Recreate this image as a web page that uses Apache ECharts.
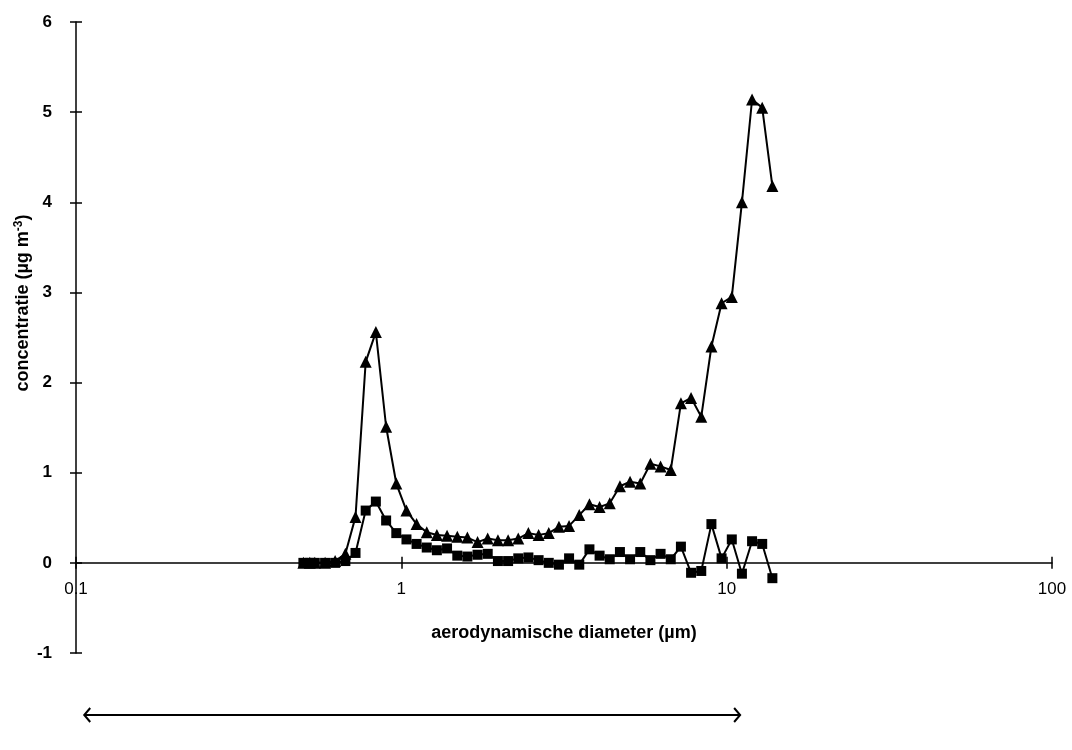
<!DOCTYPE html>
<html>
<head>
<meta charset="utf-8">
<script src="https://cdn.jsdelivr.net/npm/echarts@6/dist/echarts.min.js"></script>
<style>
html,body{margin:0;padding:0;background:#fff;}
#chart{width:1072px;height:750px;}
</style>
</head>
<body>
<div id="chart"></div>
<script>
// aerodynamic diameter (µm), channel midpoints
var diameters = [0.5, 0.523, 0.542, 0.583, 0.626, 0.673, 0.723, 0.777, 0.835, 0.898, 0.965, 1.037, 1.114, 1.197, 1.286, 1.382, 1.486, 1.596, 1.715, 1.843, 1.981, 2.129, 2.288, 2.458, 2.642, 2.839, 3.051, 3.278, 3.523, 3.786, 4.068, 4.371, 4.698, 5.048, 5.425, 5.829, 6.264, 6.732, 7.234, 7.774, 8.354, 8.977, 9.647, 10.37, 11.14, 11.97, 12.86, 13.82];
// triangle series (µg m-3)
var triangleValues = [0, 0, 0, 0, 0.02, 0.10, 0.51, 2.23, 2.56, 1.51, 0.88, 0.58, 0.43, 0.34, 0.31, 0.30, 0.29, 0.28, 0.23, 0.27, 0.25, 0.25, 0.27, 0.33, 0.31, 0.33, 0.40, 0.41, 0.53, 0.65, 0.62, 0.66, 0.85, 0.90, 0.88, 1.10, 1.07, 1.03, 1.77, 1.83, 1.62, 2.40, 2.88, 2.95, 4.00, 5.14, 5.05, 4.18];
// square series (µg m-3)
var squareValues = [0, 0, 0, 0, 0, 0.02, 0.11, 0.58, 0.68, 0.47, 0.33, 0.26, 0.21, 0.17, 0.14, 0.16, 0.08, 0.07, 0.09, 0.10, 0.02, 0.02, 0.05, 0.06, 0.03, 0.00, -0.02, 0.05, -0.02, 0.15, 0.08, 0.04, 0.12, 0.04, 0.12, 0.03, 0.10, 0.04, 0.18, -0.11, -0.09, 0.43, 0.05, 0.26, -0.12, 0.24, 0.21, -0.17];
var xTickLabels = {0.1: '0.1', 1: '1', 10: '10', 100: '100'};
var yTicks = [-1, 0, 1, 2, 3, 4, 5, 6];
var arrowRange = [0.106, 11.0];
var xTitle = 'aerodynamische diameter (\u00b5m)';

var chart = echarts.init(document.getElementById('chart'), null, {renderer: 'canvas'});
function pairs(xs, ys) { return xs.map(function (x, i) { return [x, ys[i]]; }); }

var axisColor = '#000';
var FONT = 'Liberation Sans, Arial, sans-serif';
function xFmt(v) { var k = Math.round(Math.log10(v)); return xTickLabels[Math.pow(10, k)] || ''; }

var option = {
  backgroundColor: '#fff',
  animation: false,
  grid: [
    {left: 76, right: 20, top: 22, bottom: 97},
    {left: 76, right: 20, top: 22, bottom: 187}
  ],
  xAxis: [{
    gridIndex: 0, type: 'log', logBase: 10, min: 0.1, max: 100,
    axisLine: {onZero: true, onZeroAxisIndex: 0, lineStyle: {color: axisColor, width: 1.5}},
    axisTick: {show: true, inside: false, length: 6, lineStyle: {color: axisColor, width: 1.5}},
    minorTick: {show: false},
    splitLine: {show: false},
    axisLabel: {show: false}
  }, {
    gridIndex: 0, type: 'log', logBase: 10, min: 0.1, max: 100, position: 'bottom',
    axisLine: {show: false, onZero: true, onZeroAxisIndex: 0},
    axisTick: {show: true, inside: true, length: 6, lineStyle: {color: axisColor, width: 1.5}},
    splitLine: {show: false},
    axisLabel: {show: false}
  }, {
    gridIndex: 1, type: 'log', logBase: 10, min: 0.1, max: 100, position: 'bottom',
    axisLine: {show: false, onZero: false},
    axisTick: {show: false},
    splitLine: {show: false},
    axisLabel: {color: '#000', fontFamily: FONT, fontSize: 17, margin: 18, formatter: xFmt}
  }],
  yAxis: [{
    gridIndex: 0, type: 'value', min: yTicks[0], max: yTicks[yTicks.length - 1], interval: 1,
    axisLine: {show: true, onZero: false, lineStyle: {color: axisColor, width: 1.5}},
    axisTick: {show: true, inside: false, length: 6, lineStyle: {color: axisColor, width: 1.5}},
    splitLine: {show: false},
    axisLabel: {color: '#000', fontFamily: FONT, fontSize: 17, fontWeight: 'bold', margin: 24}
  }, {
    gridIndex: 0, type: 'value', min: yTicks[0], max: yTicks[yTicks.length - 1], interval: 1, position: 'left',
    axisLine: {show: false, onZero: false},
    axisTick: {show: true, inside: true, length: 6, lineStyle: {color: axisColor, width: 1.5}},
    splitLine: {show: false},
    axisLabel: {show: false}
  }, {
    gridIndex: 1, type: 'value', min: 0, max: 6, show: false
  }],
  series: [{
    name: 'triangles', type: 'line', xAxisIndex: 0, yAxisIndex: 0,
    data: pairs(diameters, triangleValues),
    symbol: 'triangle', symbolSize: 12, showAllSymbol: true,
    lineStyle: {color: '#000', width: 2},
    itemStyle: {color: '#000'}
  }, {
    name: 'squares', type: 'line', xAxisIndex: 0, yAxisIndex: 0,
    data: pairs(diameters, squareValues),
    symbol: 'rect', symbolSize: 10, showAllSymbol: true,
    lineStyle: {color: '#000', width: 2},
    itemStyle: {color: '#000'}
  }]
};
chart.setOption(option);

var ax0 = chart.convertToPixel({xAxisIndex: 0}, arrowRange[0]);
var ax1 = chart.convertToPixel({xAxisIndex: 0}, arrowRange[1]);
var ay = 715;
chart.setOption({
  graphic: [
    {type: 'text', x: 23, y: 303, rotation: Math.PI / 2,
      style: {text: '{a|concentratie (\u00b5g m}{s|-3}{a|)}', align: 'center', verticalAlign: 'middle',
        rich: {a: {fontFamily: FONT, fontSize: 18, fontWeight: 'bold', fill: '#000'},
               s: {fontFamily: FONT, fontSize: 12, fontWeight: 'bold', fill: '#000', verticalAlign: 'top', padding: [0, 0, 9, 0]}}}},
    {type: 'text', x: 564, y: 633,
      style: {text: xTitle, align: 'center', verticalAlign: 'middle', fontFamily: FONT, fontSize: 18, fontWeight: 'bold', fill: '#000'}},
    {type: 'line', shape: {x1: ax0, y1: ay, x2: ax1, y2: ay}, style: {stroke: '#000', lineWidth: 2}},
    {type: 'polyline', shape: {points: [[ax0 + 6, ay - 7], [ax0, ay], [ax0 + 6, ay + 7]]}, style: {stroke: '#000', lineWidth: 2, fill: null}},
    {type: 'polyline', shape: {points: [[ax1 - 6, ay - 7], [ax1, ay], [ax1 - 6, ay + 7]]}, style: {stroke: '#000', lineWidth: 2, fill: null}}
  ]
});
</script>
</body>
</html>
